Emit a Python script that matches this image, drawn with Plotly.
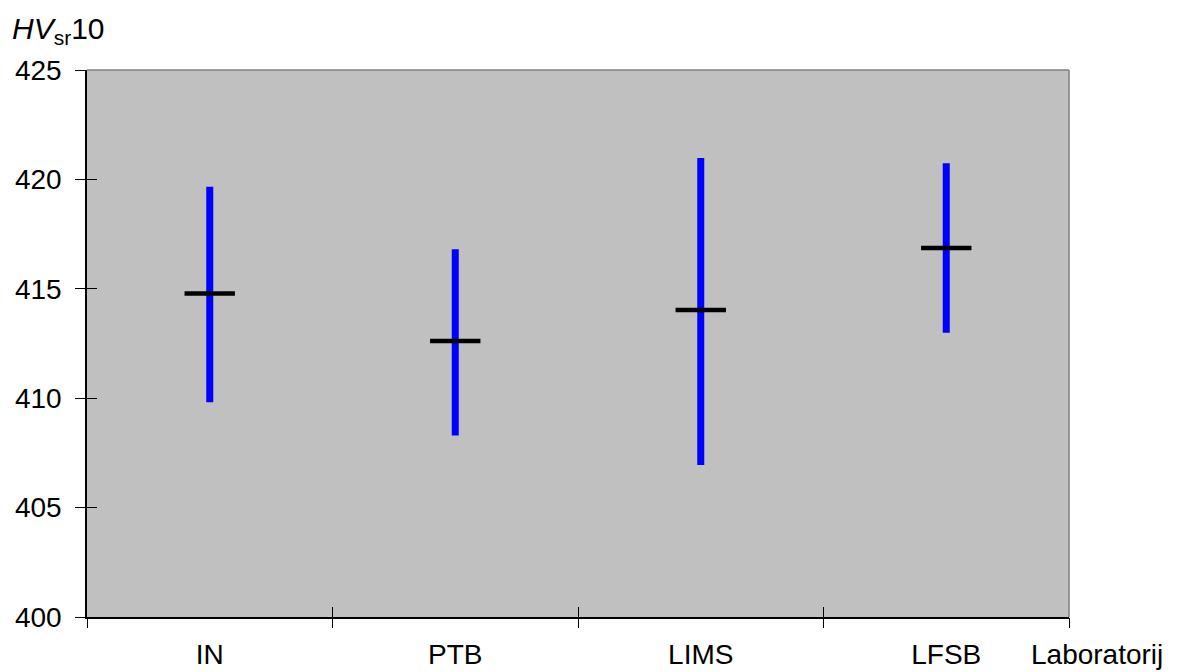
import plotly.graph_objects as go

# Data
labs = ["IN", "PTB", "LIMS", "LFSB"]
mean_vals = [414.79, 412.61, 414.03, 416.87]
low_vals = [409.81, 408.29, 406.95, 412.99]
high_vals = [419.66, 416.81, 420.98, 420.74]

y_ticks = [400, 405, 410, 415, 420, 425]

FONT = "Liberation Sans, Arial, sans-serif"
FS = 28
pos = list(range(1, len(labs) + 1))

# vertical range lines
lx, ly = [], []
for p, lo, hi in zip(pos, low_vals, high_vals):
    lx += [p, p, None]
    ly += [lo, hi, None]

fig = go.Figure()
fig.add_trace(go.Scatter(x=lx, y=ly, mode="lines",
                         line=dict(color="#0000FF", width=7),
                         hoverinfo="skip", showlegend=False))
fig.add_trace(go.Scatter(x=pos, y=mean_vals, mode="markers",
                         marker=dict(symbol="line-ew", size=36,
                                     line=dict(color="black", width=4.5)),
                         showlegend=False))

xr = [0.5, len(labs) + 0.5]
bounds = [i + 0.5 for i in range(len(labs) + 1)]
yr = [y_ticks[0], y_ticks[-1]]

fig.update_layout(
    width=1176, height=664,
    margin=dict(l=79, r=115, t=62, b=55, autoexpand=False),
    paper_bgcolor="white", plot_bgcolor="#C0C0C0",
    font=dict(family=FONT, size=FS, color="black"),
    xaxis=dict(range=xr, tickvals=pos, ticktext=labs, ticks="",
               showgrid=False, zeroline=False, showline=True, automargin=False,
               linecolor="black", linewidth=1.5, ticklabelstandoff=12,
               tickfont=dict(size=FS)),
    xaxis2=dict(range=xr, overlaying="x", anchor="y", side="bottom",
                tickvals=bounds, ticks="outside", ticklen=10, tickwidth=1,
                tickcolor="black", showticklabels=False, showgrid=False,
                zeroline=False, showline=False, automargin=False),
    xaxis3=dict(range=xr, overlaying="x", anchor="y", side="bottom",
                tickvals=bounds, ticks="inside", ticklen=10, tickwidth=1,
                tickcolor="black", showticklabels=False, showgrid=False,
                zeroline=False, showline=False, automargin=False),
    yaxis=dict(range=yr, tickvals=y_ticks, ticks="outside", ticklen=10,
               tickwidth=1, tickcolor="black", showgrid=False, zeroline=False,
               showline=True, linecolor="black", linewidth=1.5, automargin=False,
               tickfont=dict(size=FS), ticklabelstandoff=8),
    yaxis2=dict(range=yr, overlaying="y", anchor="x", side="left",
                tickvals=y_ticks, ticks="inside", ticklen=10, tickwidth=1,
                tickcolor="black", showticklabels=False, showgrid=False,
                zeroline=False, showline=False, automargin=False),
    shapes=[
        dict(type="line", xref="paper", yref="paper", x0=0, x1=1, y0=1, y1=1,
             line=dict(color="#808080", width=1.5)),
        dict(type="line", xref="paper", yref="paper", x0=1, x1=1, y0=0, y1=1,
             line=dict(color="#808080", width=1.5)),
    ],
    annotations=[
        dict(text="<i>HV</i><sub>sr</sub>10", xref="paper", yref="paper",
             x=-0.078, y=1.0, yshift=40, xanchor="left", yanchor="middle",
             showarrow=False, font=dict(size=30)),
        dict(text="Laboratorij", xref="paper", yref="paper",
             x=1.0, y=0, yshift=-37, xshift=-40, xanchor="left", yanchor="middle",
             showarrow=False, font=dict(size=FS)),
    ],
)

# invisible helper traces so the overlay tick axes render
fig.add_trace(go.Scatter(x=[None], y=[None], xaxis="x2", yaxis="y", showlegend=False, hoverinfo="skip"))
fig.add_trace(go.Scatter(x=[None], y=[None], xaxis="x3", yaxis="y", showlegend=False, hoverinfo="skip"))
fig.add_trace(go.Scatter(x=[None], y=[None], xaxis="x", yaxis="y2", showlegend=False, hoverinfo="skip"))

fig.write_html("out.html")
